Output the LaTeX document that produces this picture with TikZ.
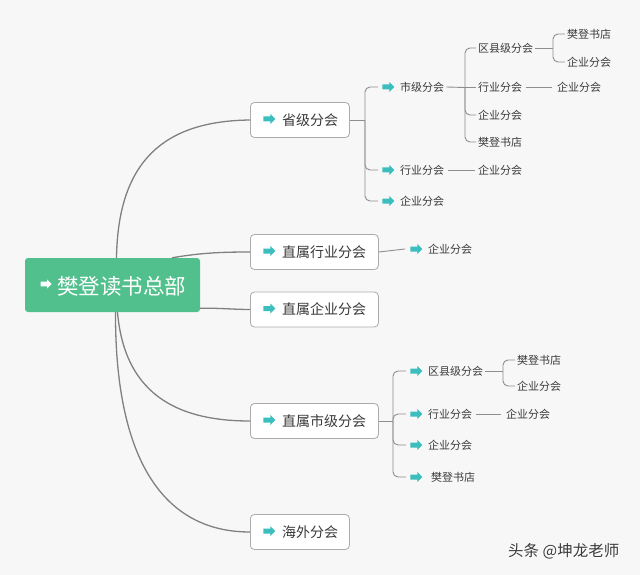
\documentclass[tikz,border=0pt]{standalone}
\usepackage{fontspec}
\setmainfont{Noto Sans CJK SC}
\usetikzlibrary{shapes.arrows}
\definecolor{bg}{HTML}{F7F7F7}
\definecolor{rootg}{HTML}{52C08D}
\definecolor{ic}{HTML}{3CBDBE}
\definecolor{ln}{HTML}{808080}
\definecolor{ln2}{HTML}{8E8E8E}
\definecolor{tx}{HTML}{3A3A3A}
\definecolor{bd}{HTML}{ABABAB}
\begin{document}
\begin{tikzpicture}[x=1pt,y=-1pt,
  rootbox/.style={fill=rootg, rounded corners=3pt, minimum width=175pt, minimum height=54pt, inner sep=0pt},
  box/.style={draw=bd, fill=white, rounded corners=4pt, line width=0.8pt, minimum height=35pt, anchor=west, inner sep=0pt},
  big/.style={text=tx, font=\fontsize{14}{14}\selectfont, anchor=west, inner sep=2pt},
  lbl/.style={text=tx, font=\fontsize{11}{11}\selectfont, anchor=west, inner sep=2pt},
  icon/.style={single arrow, fill=ic, inner sep=2.3pt, minimum height=12pt, single arrow head extend=2.5pt},
  conn/.style={draw=ln, line width=1.3pt},
  conn2/.style={draw=ln2, line width=0.9pt},
  br/.style={draw=ln2, line width=0.9pt, rounded corners=5pt}]
\fill[bg] (0,0) rectangle (640,575);
\useasboundingbox (0,0) rectangle (640,575);

% root
\node[rootbox] (root) at (112.5,285) {};
\node[single arrow, fill=white, inner sep=2.2pt, minimum height=11pt, single arrow head extend=2.3pt] (ra) at (45,284) {};
\node[text=white, font=\fontsize{21.5}{21.5}\selectfont, anchor=west, inner sep=0pt] (rt) at (57,286) {樊登读书总部};

% level 1 boxes
\node[box, minimum width=99pt] (p1) at (250,120) {};
\node[icon] (p1a) at (268,119) {};
\node[big] (p1t) at (280,120) {省级分会};
\node[box, minimum width=128pt] (p2) at (250,252) {};
\node[icon] (p2a) at (268,251) {};
\node[big] (p2t) at (280,252) {直属行业分会};
\node[box, minimum width=128pt] (p3) at (250,309.5) {};
\node[icon] (p3a) at (268,308.5) {};
\node[big] (p3t) at (280,309.5) {直属企业分会};
\node[box, minimum width=128pt] (p4) at (250,421) {};
\node[icon] (p4a) at (268,420) {};
\node[big] (p4t) at (280,421) {直属市级分会};
\node[box, minimum width=99pt] (p5) at (250,532) {};
\node[icon] (p5a) at (268,531) {};
\node[big] (p5t) at (280,532) {海外分会};

% root connectors
\draw[conn] ([xshift=4pt]root.north) .. controls (118,160) and (165,121) .. (p1.west);
\draw[conn] ([xshift=59.5pt]root.north) .. controls (200,253) and (220,252) .. (p2.west);
\draw[conn] ([yshift=4pt]root.south east) .. controls (220,308) and (235,309.5) .. (p3.west);
\draw[conn] ([xshift=5pt]root.south) .. controls (125,400) and (185,421) .. (p4.west);
\draw[conn] ([xshift=3pt]root.south) .. controls (115,470) and (170,532) .. (p5.west);

% --- 省级分会 children
\node[icon] (s1a) at (387,87) {};
\node[lbl] (s1t) at (398,87) {市级分会};
\node[icon] (s2a) at (387,170) {};
\node[lbl] (s2t) at (398,170) {行业分会};
\node[icon] (s3a) at (387,201) {};
\node[lbl] (s3t) at (398,201) {企业分会};
\coordinate (b1) at (365,120);
\draw[conn2] (p1.east) -- (b1);
\draw[br] (b1) |- ([xshift=-4pt]s1a.west);
\draw[br] (b1) |- ([xshift=-4pt]s2a.west);
\draw[br] (b1) |- ([xshift=-4pt]s3a.west);

% 市级分会 children
\node[lbl] (c1) at (476,48) {区县级分会};
\node[lbl] (c2) at (476,87.5) {行业分会};
\node[lbl] (c3) at (476,115) {企业分会};
\node[lbl] (c4) at (476,142) {樊登书店};
\coordinate (b2) at (465,87.5);
\draw[conn2] (s1t.east) -- (b2);
\draw[br] (b2) |- (c1.west);
\draw[br] (b2) -- (c2.west);
\draw[br] (b2) |- (c3.west);
\draw[br] (b2) |- (c4.west);

% 区县级分会 children
\node[lbl] (d1) at (565,34) {樊登书店};
\node[lbl] (d2) at (565,62) {企业分会};
\coordinate (b3) at (553,48);
\draw[conn2] (c1.east) -- (b3);
\draw[br] (b3) |- (d1.west);
\draw[br] (b3) |- (d2.west);

% 行业分会 -> 企业分会
\node[lbl] (d3) at (555,87.5) {企业分会};
\draw[conn2] ([xshift=2pt]c2.east) -- ([xshift=-3pt]d3.west);

% level-2 行业分会 -> 企业分会
\node[lbl] (e1) at (476,170) {企业分会};
\draw[conn2] ([xshift=2pt]s2t.east) -- ([xshift=-1pt]e1.west);

% --- 直属行业分会 child
\node[icon] (f1a) at (415,249) {};
\node[lbl] (f1t) at (426,249) {企业分会};
\draw[conn2] (p2.east) -- ([xshift=-5pt]f1a.west);

% --- 直属市级分会 children
\node[icon] (g1a) at (415,371) {};
\node[lbl] (g1t) at (426,371) {区县级分会};
\node[icon] (g2a) at (415,414) {};
\node[lbl] (g2t) at (426,414) {行业分会};
\node[icon] (g3a) at (415,445) {};
\node[lbl] (g3t) at (426,445) {企业分会};
\node[icon] (g4a) at (415,477) {};
\node[lbl] (g4t) at (429,477) {樊登书店};
\coordinate (b4) at (393,421);
\draw[conn2] (p4.east) -- (b4);
\draw[br] (b4) |- ([xshift=-4pt]g1a.west);
\draw[br] (b4) |- ([xshift=-4pt]g2a.west);
\draw[br] (b4) |- ([xshift=-4pt]g3a.west);
\draw[br] (b4) |- ([xshift=-4pt]g4a.west);

% 区县级分会 children
\node[lbl] (h1) at (515,360) {樊登书店};
\node[lbl] (h2) at (515,386) {企业分会};
\coordinate (b5) at (503,371);
\draw[conn2] (g1t.east) -- (b5);
\draw[br] (b5) |- (h1.west);
\draw[br] (b5) |- (h2.west);

% 行业分会 -> 企业分会
\node[lbl] (h3) at (504,414) {企业分会};
\draw[conn2] ([xshift=2pt]g2t.east) -- ([xshift=-3pt]h3.west);

% watermark
\node[text=white, font=\fontsize{15.5}{15.5}\selectfont, anchor=west, inner sep=0pt] at (509,552) {头条 @坤龙老师};
\node[text=tx, font=\fontsize{15.5}{15.5}\selectfont, anchor=west, inner sep=0pt] (wm) at (508,551) {头条 @坤龙老师};
\end{tikzpicture}
\end{document}
